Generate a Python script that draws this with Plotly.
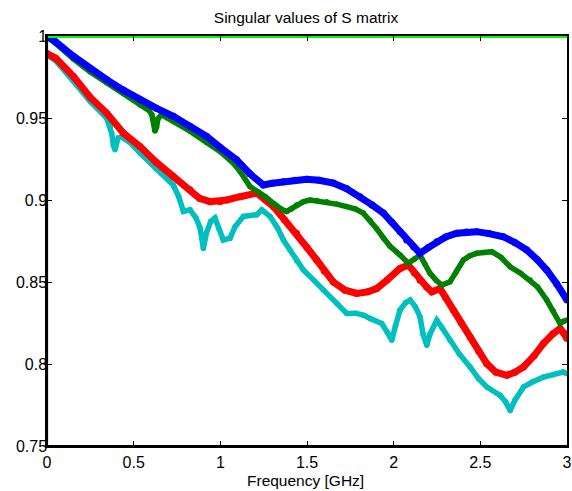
import plotly.graph_objects as go

# Frequency grids (GHz) and singular values for each trace
f_blue = [0.00, 0.05, 0.152, 0.25, 0.344, 0.44, 0.537, 0.63, 0.729, 0.825, 0.921, 1.00, 1.094,
          1.17, 1.248, 1.30, 1.364, 1.43, 1.499, 1.57, 1.652, 1.73, 1.806, 1.875, 1.941, 1.99,
          2.037, 2.075, 2.115, 2.152, 2.20, 2.249, 2.30, 2.364, 2.42, 2.479, 2.55, 2.633, 2.70,
          2.768, 2.83, 2.883, 2.94, 3.00]
s_blue = [1.000, 0.9965, 0.9877, 0.980, 0.9734, 0.967, 0.9612, 0.956, 0.951, 0.945, 0.9388, 0.932,
          0.9245, 0.916, 0.9092, 0.9102, 0.9112, 0.912, 0.9127, 0.912, 0.9103, 0.9068, 0.902, 0.897,
          0.892, 0.8865, 0.8807, 0.8756, 0.8715, 0.8675, 0.871, 0.8746, 0.8775, 0.8797, 0.8805,
          0.8807, 0.8795, 0.8776, 0.874, 0.8695, 0.8635, 0.8573, 0.849, 0.839]

f_green = [0.00, 0.05, 0.152, 0.25, 0.344, 0.44, 0.537, 0.59, 0.605, 0.615, 0.623, 0.632, 0.64,
           0.66, 0.729, 0.825, 0.921, 1.00, 1.075, 1.114, 1.171, 1.219, 1.26, 1.306, 1.35, 1.383,
           1.41, 1.44, 1.48, 1.518, 1.56, 1.614, 1.67, 1.729, 1.78, 1.825, 1.864, 1.902, 1.94,
           1.979, 2.037, 2.085, 2.12, 2.152, 2.18, 2.21, 2.245, 2.278, 2.325, 2.36, 2.402, 2.44,
           2.479, 2.52, 2.566, 2.62, 2.672, 2.73, 2.787, 2.83, 2.883, 2.92, 2.96, 2.98, 3.00]
s_green = [0.9995, 0.9955, 0.986, 0.978, 0.9715, 0.965, 0.958, 0.9545, 0.952, 0.9465, 0.942, 0.9445,
           0.9495, 0.952, 0.948, 0.942, 0.935, 0.9295, 0.9225, 0.9174, 0.9082, 0.905, 0.902, 0.898,
           0.8945, 0.893, 0.8945, 0.897, 0.899, 0.900, 0.8995, 0.899, 0.8975, 0.896, 0.8945, 0.892,
           0.8875, 0.8825, 0.877, 0.8718, 0.8664, 0.8614, 0.864, 0.8664, 0.861, 0.8553, 0.851,
           0.8481, 0.8501, 0.856, 0.8634, 0.866, 0.8675, 0.868, 0.8685, 0.865, 0.8593, 0.8555,
           0.8512, 0.847, 0.839, 0.8325, 0.8247, 0.826, 0.8267]

f_red = [0.00, 0.05, 0.152, 0.25, 0.344, 0.44, 0.537, 0.63, 0.729, 0.825, 0.88, 0.941, 0.998,
         1.037, 1.114, 1.21, 1.26, 1.306, 1.37, 1.44, 1.50, 1.556, 1.60, 1.652, 1.72, 1.787, 1.85,
         1.902, 1.96, 2.037, 2.085, 2.12, 2.152, 2.19, 2.22, 2.268, 2.30, 2.345, 2.39, 2.441, 2.49,
         2.537, 2.59, 2.653, 2.70, 2.749, 2.81, 2.864, 2.92, 2.96, 2.98, 3.00]
s_red = [0.9893, 0.9865, 0.9754, 0.9625, 0.953, 0.9408, 0.9326, 0.923, 0.9143, 0.9062, 0.901,
         0.899, 0.899, 0.900, 0.902, 0.9042, 0.900, 0.896, 0.888, 0.8797, 0.871, 0.8634, 0.8565,
         0.850, 0.845, 0.843, 0.844, 0.846, 0.851, 0.8583, 0.8603, 0.8555, 0.851, 0.847, 0.844,
         0.846, 0.8405, 0.8328, 0.825, 0.8165, 0.808, 0.8002, 0.795, 0.7931, 0.795, 0.7982, 0.805,
         0.8125, 0.8185, 0.8216, 0.819, 0.8155]

f_cyan = [0.00, 0.05, 0.152, 0.25, 0.344, 0.365, 0.373, 0.383, 0.392, 0.40, 0.411, 0.43, 0.48,
          0.537, 0.63, 0.729, 0.76, 0.787, 0.825, 0.86, 0.883, 0.902, 0.92, 0.945, 0.969, 0.99,
          1.017, 1.056, 1.085, 1.133, 1.21, 1.239, 1.287, 1.33, 1.364, 1.402, 1.44, 1.479, 1.54,
          1.595, 1.672, 1.729, 1.78, 1.825, 1.864, 1.931, 1.965, 1.989, 2.01, 2.037, 2.07, 2.095,
          2.125, 2.152, 2.17, 2.191, 2.21, 2.249, 2.28, 2.325, 2.38, 2.441, 2.49, 2.537, 2.614,
          2.645, 2.672, 2.70, 2.749, 2.80, 2.864, 2.92, 2.979, 3.00]
s_cyan = [0.9885, 0.985, 0.9724, 0.960, 0.950, 0.9445, 0.9408, 0.9335, 0.9306, 0.934, 0.9378,
          0.9385, 0.935, 0.9286, 0.919, 0.909, 0.902, 0.893, 0.894, 0.889, 0.883, 0.8705, 0.880,
          0.887, 0.889, 0.883, 0.8756, 0.8767, 0.8837, 0.890, 0.891, 0.894, 0.890, 0.883, 0.8756,
          0.8695, 0.863, 0.8573, 0.851, 0.845, 0.837, 0.8308, 0.831, 0.8298, 0.8277, 0.8247, 0.819,
          0.8145, 0.823, 0.833, 0.8375, 0.839, 0.835, 0.8287, 0.818, 0.8114, 0.8185, 0.8267, 0.822,
          0.8145, 0.806, 0.7982, 0.791, 0.786, 0.7809, 0.777, 0.7717, 0.778, 0.786, 0.789, 0.792,
          0.7935, 0.7951, 0.794]

f_lime = [0.0, 3.0]
s_lime = [1.0, 1.0]

x_ticks = [0, 0.5, 1, 1.5, 2, 2.5, 3]
y_ticks = [0.75, 0.8, 0.85, 0.9, 0.95, 1]

FONT = "Liberation Sans, Arial, sans-serif"

fig = go.Figure()

# bottom to top drawing order
traces = [
    (f_cyan, s_cyan, "#00BFBF", 5.5),
    (f_red, s_red, "#FF0000", 7),
    (f_green, s_green, "#008000", 5.5),
    (f_blue, s_blue, "#0000FF", 7),
    (f_lime, s_lime, "#00FF00", 4),
]
for fx, sy, col, w in traces:
    fig.add_trace(go.Scatter(
        x=fx, y=sy, mode="lines+markers",
        line=dict(color=col, width=w),
        marker=dict(color=col, size=w),
        showlegend=False, hoverinfo="skip",
    ))

axis_common = dict(
    showgrid=False, zeroline=False,
    showline=True, linecolor="black", linewidth=1.5, mirror="allticks",
    ticks="inside", ticklen=5, tickwidth=1, tickcolor="black",
    tickfont=dict(family=FONT, size=16, color="black"),
)

fig.update_xaxes(range=[0, 3], tickvals=x_ticks,
                 ticktext=[f"{v:g}" for v in x_ticks],
                 ticklabelstandoff=1, **axis_common)
fig.update_yaxes(range=[0.75, 1], tickvals=y_ticks,
                 ticktext=[f"{v:g}" for v in y_ticks],
                 ticklabelstandoff=-5, **axis_common)

# heavier frame on the left and bottom edges
for x0, y0, x1, y1 in [(0, 0, 1, 0), (0, 0, 0, 1)]:
    fig.add_shape(type="line", xref="paper", yref="paper",
                  x0=x0, y0=y0, x1=x1, y1=y1,
                  line=dict(color="black", width=2.2))

fig.update_layout(
    width=572, height=491,
    margin=dict(l=47, r=5, t=36, b=45, autoexpand=False),
    paper_bgcolor="white", plot_bgcolor="white",
    title=dict(text="Singular values of S matrix", x=306 / 572, xanchor="center",
               y=1 - 18 / 491, yanchor="middle", yref="container",
               font=dict(family=FONT, size=15.5, color="black")),
    annotations=[dict(text="Frequency [GHz]", xref="paper", yref="paper",
                      x=0.497, y=-0.085, xanchor="center", yanchor="middle",
                      showarrow=False,
                      font=dict(family=FONT, size=15.5, color="black"))],
)

fig.write_html("out.html")
